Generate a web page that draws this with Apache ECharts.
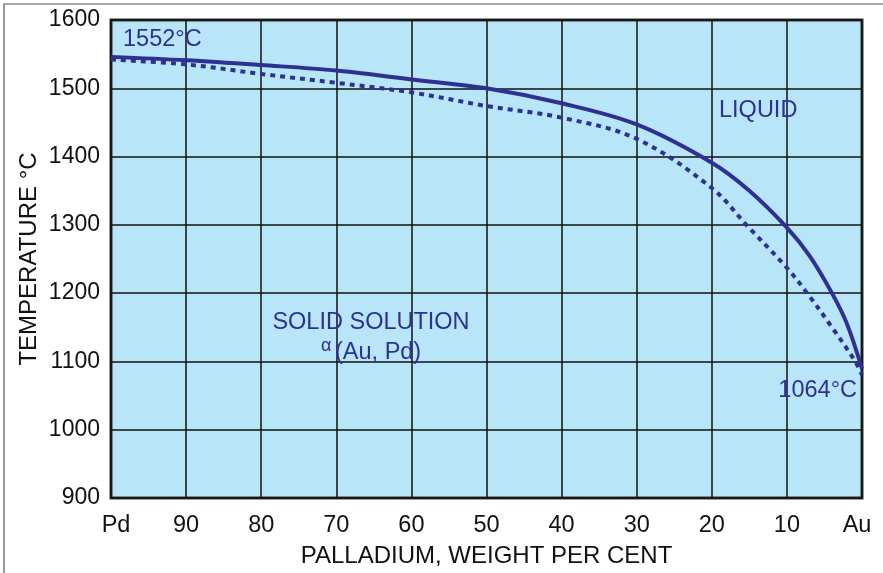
<!DOCTYPE html>
<html>
<head>
<meta charset="utf-8">
<script src="https://cdn.jsdelivr.net/npm/echarts@6/dist/echarts.min.js"></script>
<style>
  html, body { margin: 0; padding: 0; background: #fff; }
  #chart { width: 883px; height: 573px; }
</style>
</head>
<body>
<div id="chart"></div>
<script>
// composition in weight per cent palladium (100 = Pd, 0 = Au)
const liquidusPd = [100, 90, 80, 70, 60, 50, 40, 30, 20, 15, 10, 7, 4, 2, 0];
const liquidusT = [1546, 1541, 1534, 1526, 1513, 1500, 1478, 1447, 1391, 1350, 1296, 1255, 1200, 1155, 1089];

const solidusPd = [100, 90, 80, 70, 60, 50, 40, 30, 20, 15.4, 10, 7.3, 4, 0.9, 0];
const solidusT = [1542, 1535, 1521, 1508, 1494, 1474, 1457, 1426, 1354, 1300, 1237, 1200, 1150, 1100, 1080];

const yTicks = [900, 1000, 1100, 1200, 1300, 1400, 1500, 1600];

const blue = "#2e3192";
const font = "Liberation Sans, Arial, sans-serif";

const pairs = (xs, ys) => xs.map((x, i) => [x, ys[i]]);

const chart = echarts.init(document.getElementById("chart"));

const option = {
  animation: false,
  backgroundColor: "#fff",
  grid: {
    left: 111,
    top: 20,
    right: 21,
    bottom: 74,
    show: true,
    backgroundColor: "#b9e5f8",
    borderColor: "#333",
    borderWidth: 3,
  },
  xAxis: {
    type: "value",
    inverse: true,
    min: 0,
    max: 100,
    interval: 10,
    name: "PALLADIUM, WEIGHT PER CENT",
    nameLocation: "middle",
    nameGap: 46,
    nameTextStyle: { fontFamily: font, fontSize: 24, color: "#111" },
    axisLine: { show: false },
    axisTick: { show: false },
    splitLine: { lineStyle: { color: "#111", width: 1.5 } },
    axisLabel: {
      margin: 16,
      fontFamily: font,
      fontSize: 23.5,
      color: "#111",
      formatter: (v) => {
        if (v === 100) return "{pd|Pd}";
        if (v === 0) return "{au|Au}";
        return String(v);
      },
      rich: {
        pd: { fontFamily: font, fontSize: 23.5, color: "#111", padding: [0, 0, 0, 10] },
        au: { fontFamily: font, fontSize: 23.5, color: "#111", padding: [0, 10, 0, 0] },
      },
    },
  },
  yAxis: {
    type: "value",
    min: yTicks[0],
    max: yTicks[yTicks.length - 1],
    interval: 100,
    name: "TEMPERATURE °C",
    nameLocation: "middle",
    nameGap: 70,
    nameMoveOverlap: false,
    nameTextStyle: { fontFamily: font, fontSize: 24, color: "#111" },
    axisLine: { show: false },
    axisTick: { show: false },
    splitLine: { lineStyle: { color: "#111", width: 1.5 } },
    axisLabel: {
      margin: 11,
      fontFamily: font,
      fontSize: 23,
      color: "#111",
      formatter: (v) => String(v),
    },
  },
  series: [
    {
      name: "Liquidus",
      type: "line",
      data: pairs(liquidusPd, liquidusT),
      smooth: 0.35,
      showSymbol: false,
      lineStyle: { color: blue, width: 4 },
      z: 3,
    },
    {
      name: "Solidus",
      type: "line",
      data: pairs(solidusPd, solidusT),
      smooth: 0.35,
      showSymbol: false,
      lineStyle: { color: blue, width: 4, type: [5, 5], cap: "butt" },
      z: 3,
    },
  ],
  graphic: [
    {
      type: "rect",
      shape: { x: 4, y: 4, width: 900, height: 600 },
      style: { fill: "none", stroke: "#555", lineWidth: 1.2 },
      silent: true,
    },
    {
      type: "text",
      x: 123, y: 40,
      style: { text: "1552°C", fontFamily: font, fontSize: 23.5, fill: blue, textVerticalAlign: "middle" },
      z: 10,
    },
    {
      type: "text",
      x: 719, y: 111,
      style: { text: "LIQUID", fontFamily: font, fontSize: 23.5, fill: blue, textVerticalAlign: "middle" },
      z: 10,
    },
    {
      type: "text",
      x: 371, y: 323,
      style: { text: "SOLID SOLUTION", fontFamily: font, fontSize: 23.5, fill: blue, textAlign: "center", textVerticalAlign: "middle" },
      z: 10,
    },
    {
      type: "text",
      x: 321, y: 346,
      style: { text: "α", fontFamily: font, fontSize: 18, fill: blue, textVerticalAlign: "middle" },
      z: 10,
    },
    {
      type: "text",
      x: 335, y: 353,
      style: { text: "(Au, Pd)", fontFamily: font, fontSize: 23.5, fill: blue, textVerticalAlign: "middle" },
      z: 10,
    },
    {
      type: "text",
      x: 857, y: 391,
      style: { text: "1064°C", fontFamily: font, fontSize: 23.5, fill: blue, textAlign: "right", textVerticalAlign: "middle" },
      z: 10,
    },
  ],
};

chart.setOption(option);
</script>
</body>
</html>
